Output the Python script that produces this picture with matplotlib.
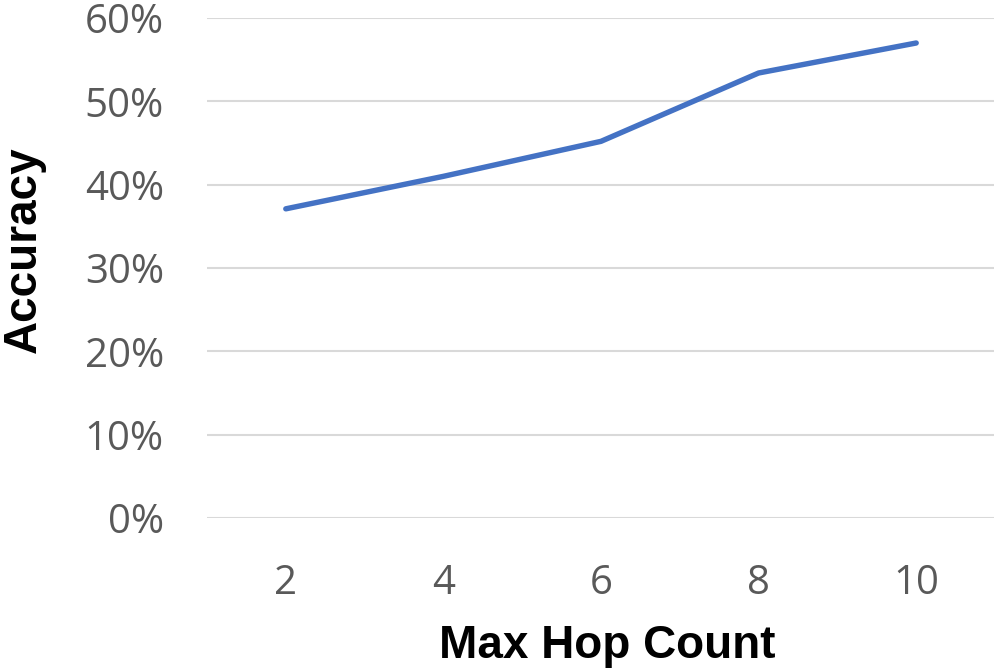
import matplotlib
matplotlib.use("Agg")
import matplotlib.pyplot as plt
from matplotlib.ticker import FuncFormatter

hops = [2, 4, 6, 8, 10]
accuracy = [0.371, 0.410, 0.452, 0.534, 0.570]
y_ticks = [0.0, 0.1, 0.2, 0.3, 0.4, 0.5, 0.6]

fig = plt.figure(figsize=(9.95, 6.7), dpi=100)
ax = fig.add_axes([207/995, (670-518)/670, 788/995, 500/670])

ax.plot(hops, accuracy, color="#4472C4", linewidth=3.9, solid_capstyle="round", zorder=3)

ax.set_xlim(1, 11)
ax.set_ylim(0, 0.6)
ax.set_yticks(y_ticks)
ax.set_xticks(hops)
ax.yaxis.set_major_formatter(FuncFormatter(lambda v, p: f"{v*100:.0f}%"))

ax.grid(axis="y", color="#d9d9d9", linewidth=1.5)
ax.set_axisbelow(True)
for s in ax.spines.values():
    s.set_visible(False)
ax.tick_params(axis="both", length=0, colors="#595959", labelsize=29)
ax.tick_params(axis="y", pad=31)
ax.tick_params(axis="x", pad=33)
for lab in ax.get_xticklabels() + ax.get_yticklabels():
    lab.set_fontfamily("Open Sans")

ax.set_xlabel("Max Hop Count", fontsize=33, fontweight="bold", family="Liberation Sans",
              color="black", labelpad=14)
ax.xaxis.label.set_x((607 - 207) / 788)
ax.set_ylabel("Accuracy", fontsize=33, fontweight="bold", family="Liberation Sans",
              color="black")
ax.yaxis.set_label_coords((46 - 207) / 788, (518 - 250) / 500)

fig.savefig("out.png", dpi=100)
